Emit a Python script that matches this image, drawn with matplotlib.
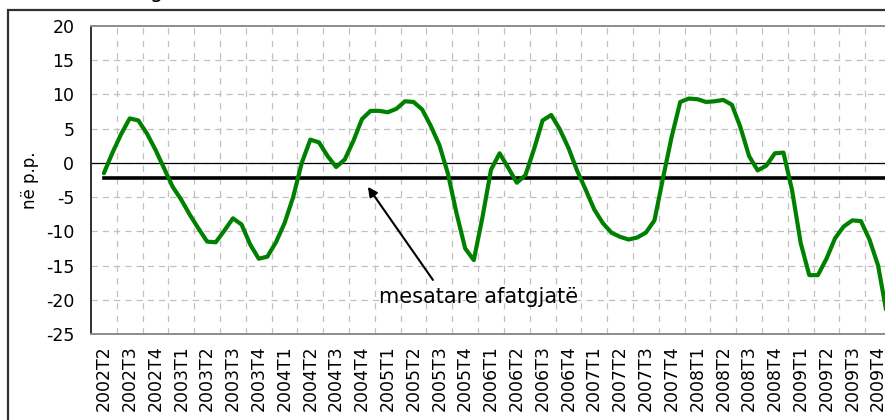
import numpy as np
import matplotlib
matplotlib.use("Agg")
import matplotlib.pyplot as plt
from matplotlib.patches import Rectangle

plt.rcParams["axes.unicode_minus"] = False

# Quarter labels on the category axis
quarters = [
    "2002T2", "2002T3", "2002T4",
    "2003T1", "2003T2", "2003T3", "2003T4",
    "2004T1", "2004T2", "2004T3", "2004T4",
    "2005T1", "2005T2", "2005T3", "2005T4",
    "2006T1", "2006T2", "2006T3", "2006T4",
    "2007T1", "2007T2", "2007T3", "2007T4",
    "2008T1", "2008T2", "2008T3", "2008T4",
    "2009T1", "2009T2", "2009T3", "2009T4",
]

# Monthly gap values (p.p.), three points per quarter
gap = [
    -1.5, 1.5, 4.2, 6.5, 6.2, 4.3, 1.9, -0.8, -3.5, -5.4,
    -7.6, -9.6, -11.5, -11.6, -9.9, -8.1, -9.0, -11.9, -14.0, -13.7,
    -11.6, -8.8, -5.0, 0.0, 3.4, 3.0, 1.0, -0.6, 0.5, 3.2,
    6.4, 7.6, 7.6, 7.4, 7.9, 9.0, 8.9, 7.8, 5.4, 2.6,
    -1.6, -7.4, -12.5, -14.2, -8.0, -1.0, 1.4, -0.7, -2.9, -1.8,
    2.0, 6.2, 7.0, 4.9, 2.2, -1.1, -3.9, -6.8, -8.8, -10.2,
    -10.8, -11.2, -10.9, -10.2, -8.4, -2.2, 3.8, 8.9, 9.4, 9.3,
    8.9, 9.0, 9.2, 8.5, 5.2, 1.0, -1.1, -0.4, 1.4, 1.5,
    -4.0, -11.7, -16.4, -16.4, -14.0, -11.0, -9.3, -8.4, -8.5, -11.2,
    -15.0, -22.0,
]

LONG_RUN_MEAN = -2.2
POINTS_PER_QUARTER = 3

x_gap = np.arange(len(gap)) / POINTS_PER_QUARTER
x_cat = np.arange(len(quarters))

fig = plt.figure(figsize=(8.85, 4.2), dpi=100)
ax = fig.add_axes([91 / 885, 86 / 420, 800 / 885, 308 / 420])

# dashed grid: horizontal at every 5, vertical between categories
for yv in range(-20, 20, 5):
    ax.axhline(yv, color="#c0c0c0", lw=0.9, dashes=(5, 4), zorder=1)
for xv in x_cat[1:] - 0.5:
    ax.axvline(xv, color="#c0c0c0", lw=0.9, dashes=(5, 5), zorder=1)

ax.axhline(0, color="black", lw=0.9, zorder=2)
ax.plot([x_gap[0], x_gap[-1]], [LONG_RUN_MEAN, LONG_RUN_MEAN],
        color="black", lw=2.6, zorder=3)
ax.plot(x_gap, gap, color="#008000", lw=3.0, zorder=4,
        solid_joinstyle="round", solid_capstyle="round")

ax.set_xlim(-0.5, len(quarters) - 0.5)
ax.set_ylim(-25, 20)
ax.set_yticks(range(-25, 21, 5))
ax.set_xticks(x_cat)
ax.set_xticklabels(quarters, rotation=90, fontsize=12.5, va="top")
ax.tick_params(axis="y", length=0, pad=12, labelsize=12.5)
ax.tick_params(axis="x", length=0, pad=8)
ax.set_ylabel("në p.p.", fontsize=12, labelpad=5)

for side in ["top", "bottom"]:
    ax.spines[side].set_color("#8c8c8c")
    ax.spines[side].set_linewidth(1.4)
ax.spines["left"].set_color("#303030")
ax.spines["left"].set_linewidth(1.4)
ax.spines["right"].set_visible(False)

# long-run mean label with arrow
ax.annotate("", xy=(10.23, -3.5), xytext=(12.75, -17.1),
            arrowprops=dict(arrowstyle="-|>", color="black", lw=1.5,
                            mutation_scale=14, shrinkA=0, shrinkB=0))
ax.text(14.5, -19.6, "mesatare afatgjatë", fontsize=15, ha="center",
        va="center")

# outer chart border (cut at the right and bottom)
fig.patches.append(Rectangle((8 / 885, -0.2), 1.2, 410 / 420 + 0.2,
                             transform=fig.transFigure, fill=False,
                             edgecolor="#303030", lw=1.6))
# bottom of a cut-off title glyph
fig.text(150 / 885, 1.004, "g", fontsize=15, va="baseline")

fig.savefig("out.png", dpi=100)
